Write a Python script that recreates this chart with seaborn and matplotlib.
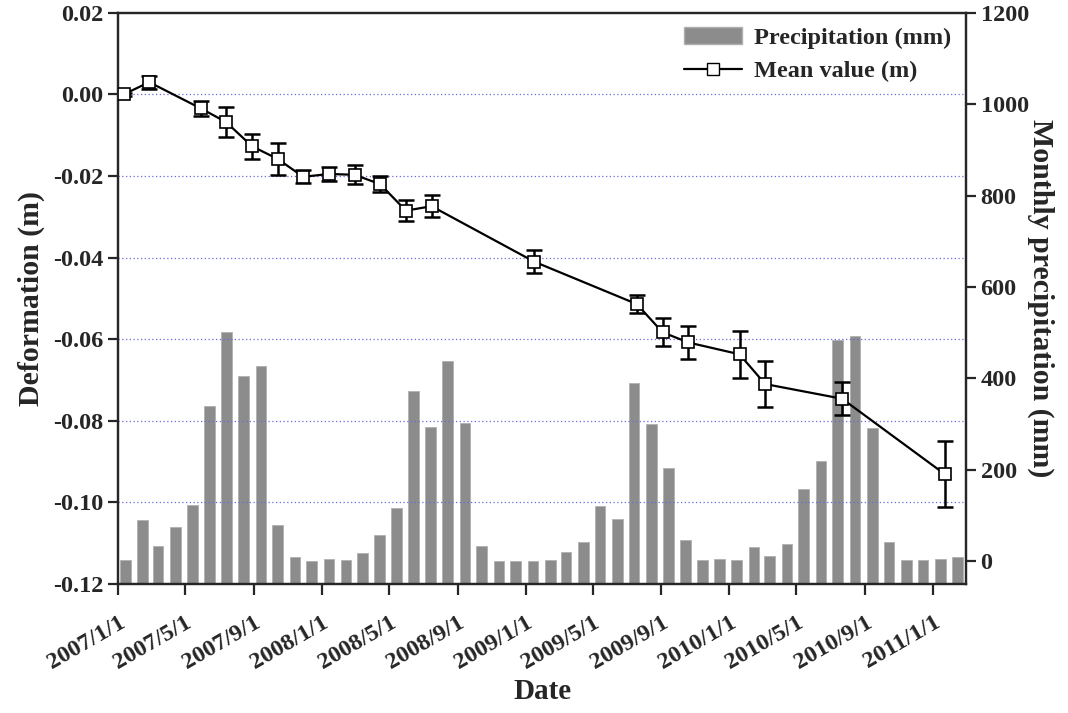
import pandas as pd
import matplotlib
matplotlib.use('Agg')
import matplotlib.pyplot as plt
from matplotlib.patches import Patch
from matplotlib.lines import Line2D
import seaborn as sns

# Monthly precipitation (mm), 2007/1 .. 2011/2
precip = [2, 91, 34, 75, 123, 340, 502, 405, 427, 79, 9, 0,
          4, 2, 17, 58, 117, 372, 294, 438, 302, 34, 1, 1,
          1, 2, 20, 42, 120, 93, 389, 299, 204, 47, 3, 4,
          2, 30, 11, 38, 158, 220, 485, 493, 291, 41, 2, 2,
          4, 8]

# Acquisition dates and mean deformation (m) with error
obs_dates = ['2007-01-11', '2007-02-26', '2007-05-29', '2007-07-14', '2007-08-29',
             '2007-10-14', '2007-11-29', '2008-01-14', '2008-02-29', '2008-04-15',
             '2008-05-31', '2008-07-16', '2009-01-16', '2009-07-19', '2009-09-03',
             '2009-10-19', '2010-01-19', '2010-03-06', '2010-07-22', '2011-01-22']
mean_def = [0.0, 0.003, -0.0034, -0.0068, -0.0127, -0.0158, -0.0202, -0.0195,
            -0.0197, -0.022, -0.0285, -0.0274, -0.041, -0.0514, -0.0583, -0.0608,
            -0.0637, -0.071, -0.0746, -0.0931]
err_def = [0.0003, 0.0016, 0.0018, 0.0037, 0.0031, 0.0039, 0.0016, 0.0018, 0.0023,
           0.002, 0.0025, 0.0027, 0.0028, 0.0023, 0.0034, 0.004, 0.0058, 0.0057,
           0.004, 0.0081]

tick_labels = ['2007/1/1', '2007/5/1', '2007/9/1', '2008/1/1', '2008/5/1', '2008/9/1',
               '2009/1/1', '2009/5/1', '2009/9/1', '2010/1/1', '2010/5/1', '2010/9/1',
               '2011/1/1']

sns.set_style('ticks')
plt.rcParams['font.family'] = ['Liberation Serif', 'DejaVu Serif']
plt.rcParams['font.weight'] = 'bold'
plt.rcParams['axes.linewidth'] = 1.6

months = pd.date_range('2007-01-01', periods=len(precip), freq='MS') + pd.Timedelta(days=13)
df = pd.DataFrame({'date': pd.to_datetime(obs_dates), 'mean': mean_def, 'err': err_def})

fig, ax = plt.subplots(figsize=(10.68, 7.13), dpi=100)
fig.subplots_adjust(left=0.1105, right=0.9045, top=0.982, bottom=0.181)
ax2 = ax.twinx()

# bars on the right axis, drawn from the bottom of the axis
ax2.bar(months, [p + 50 for p in precip], bottom=-50, width=19,
        color='#8c8c8c', edgecolor='#b0b0b0', linewidth=0.6)
ax2.set_ylim(-50, 1200)
ax2.set_yticks([0, 200, 400, 600, 800, 1000, 1200])
ax2.set_ylabel('Monthly precipitation (mm)', fontsize=21.5, fontweight='bold',
               rotation=-90, labelpad=18)

# line on the left axis, on top of the bars
ax.set_zorder(ax2.get_zorder() + 1)
ax.patch.set_visible(False)
ax.errorbar(df['date'], df['mean'], yerr=df['err'], fmt='none', ecolor='black',
            elinewidth=1.8, capsize=6, capthick=1.8, zorder=3)
sns.lineplot(data=df, x='date', y='mean', ax=ax, color='black', linewidth=1.6,
             marker='s', markersize=8, markerfacecolor='white',
             markeredgecolor='black', markeredgewidth=1.2, zorder=4)

ax.set_ylim(-0.12, 0.02)
ax.set_yticks([-0.12, -0.10, -0.08, -0.06, -0.04, -0.02, 0.00, 0.02])
ax.set_yticklabels([f'{v:.2f}' for v in [-0.12, -0.10, -0.08, -0.06, -0.04, -0.02, 0.00, 0.02]])
for v in [-0.10, -0.08, -0.06, -0.04, -0.02, 0.00]:
    ax.axhline(v, color='#6a6ae0', linestyle=(0, (1, 2)), linewidth=0.9, zorder=1)

tick_pos = pd.to_datetime(tick_labels, format='%Y/%m/%d')
ax.set_xlim(pd.Timestamp('2007-01-01'), pd.Timestamp('2011-03-01'))
ax.set_xticks(tick_pos)
ax.set_xticklabels(tick_labels, rotation=30, ha='right', rotation_mode='anchor')

ax.set_xlabel('Date', fontsize=21, fontweight='bold', labelpad=4)
ax.set_ylabel('Deformation (m)', fontsize=21.5, fontweight='bold', labelpad=6)

for a in (ax, ax2):
    a.tick_params(axis='both', labelsize=17.5, width=1.6, length=7, direction='out')
    for lab in a.get_xticklabels() + a.get_yticklabels():
        lab.set_fontweight('bold')
ax.tick_params(axis='x', length=8, pad=12)
ax2.tick_params(axis='x', which='both', length=0)

handles = [Patch(facecolor='#8c8c8c', edgecolor='#b0b0b0'),
           Line2D([0], [0], color='black', linewidth=1.6, marker='s', markersize=8,
                  markerfacecolor='white', markeredgecolor='black')]
ax.legend(handles, ['Precipitation (mm)', 'Mean value (m)'], loc='upper right',
          frameon=False, prop={'weight': 'bold', 'size': 17.5},
          handlelength=2.4, borderaxespad=0.2, labelspacing=0.45, handletextpad=0.5)

fig.savefig('out.png', dpi=100)
